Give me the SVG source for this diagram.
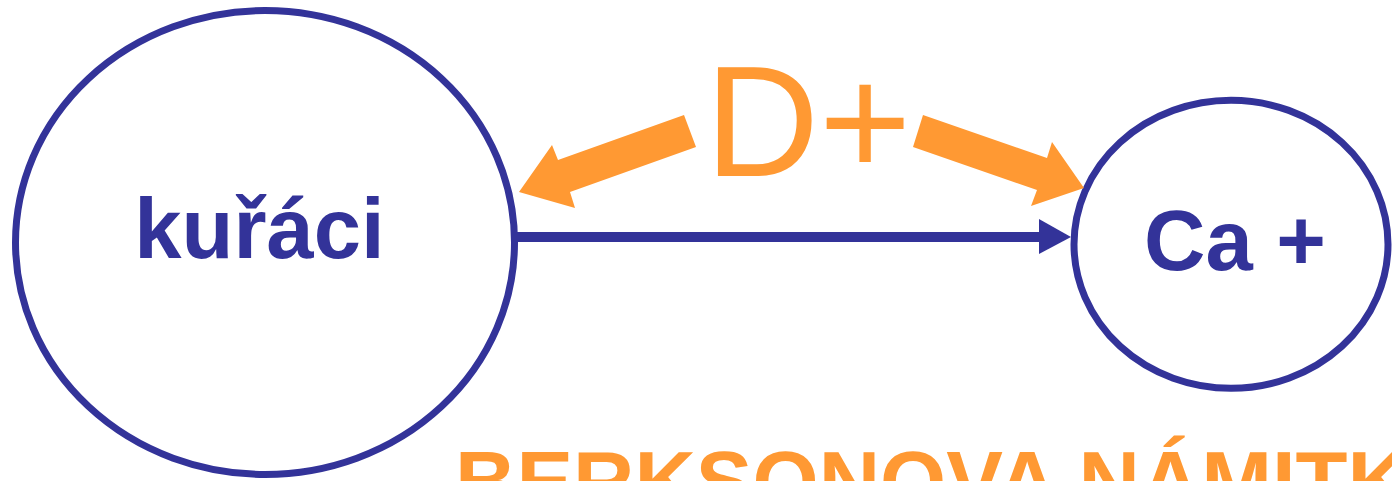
<svg xmlns="http://www.w3.org/2000/svg" width="1392" height="481" viewBox="0 0 1392 481">
<style>
.node{fill:#FFFFFF;stroke:#333399;stroke-width:7}
.lbl{font-family:"Liberation Sans",Arial,sans-serif;font-weight:bold;font-size:85px;fill:#333399;text-anchor:middle}
.orange{fill:#FF9933}
</style>
<rect width="1392" height="481" fill="#FFFFFF"/>
<g id="kuraci">
<ellipse class="node" cx="265" cy="242.5" rx="249.5" ry="232"/>
<text class="lbl" x="259.5" y="258">kuřáci</text>
</g>
<g id="ca">
<ellipse class="node" cx="1231" cy="244.3" rx="157" ry="144"/>
<text class="lbl" x="1235" y="270">Ca +</text>
</g>
<g id="connectors">
<line x1="516" y1="237" x2="1041" y2="237" stroke="#333399" stroke-width="10"/>
<polygon points="1039,219 1071,237 1039,254" fill="#333399"/>
<polygon class="orange" points="684,115 558,160 552,145 519,192 575,208 570,192 696,147"/>
<polygon class="orange" points="923,115 1047,158 1052,142 1084,188 1031,206 1037,190 913,147"/>
</g>
<g id="dplus">
<text x="705" y="176" font-family="'Liberation Sans',Arial,sans-serif" font-size="158" fill="#FF9933">D+</text>
</g>
<g id="title">
<text x="455" y="511" font-family="'Liberation Sans',Arial,sans-serif" font-weight="bold" font-size="85" fill="#FF9933">BERKSONOVA NÁMITKA</text>
</g>
</svg>
